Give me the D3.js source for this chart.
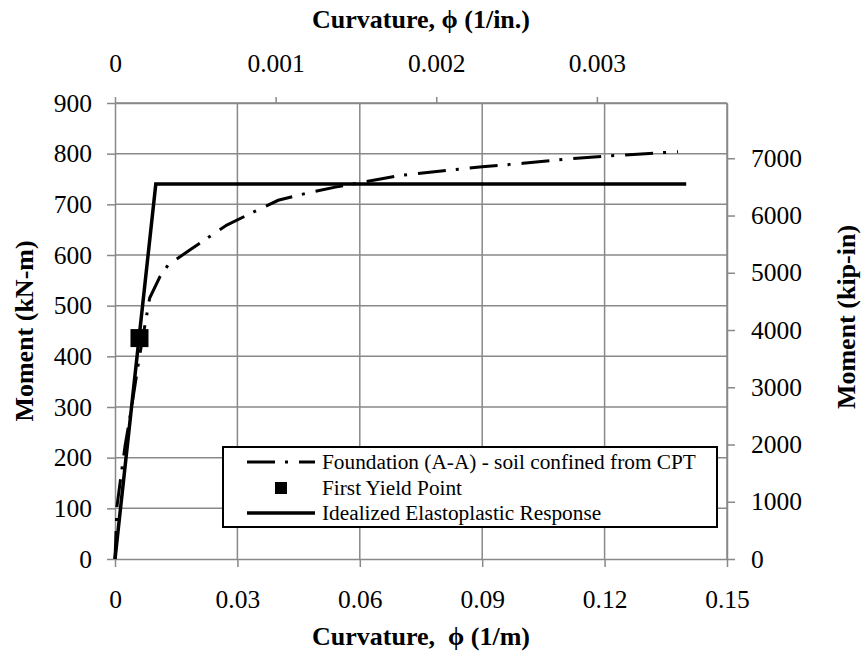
<!DOCTYPE html>
<html>
<head>
<meta charset="utf-8">
<script src="https://cdn.jsdelivr.net/npm/d3@7"></script>
<style>
  body { margin: 0; background: #fff; }
  svg text { font-family: "Liberation Serif", "Times New Roman", serif; fill: #000; }
  .axis text { font-size: 25.5px; font-family: "Liberation Serif", "Times New Roman", serif; }
  .title { font-size: 26px; font-weight: bold; }
  .legend text { font-size: 21.3px; }
</style>
</head>
<body>
<script>
// curvature (1/m) and moment (kN-m)
var curveX = [0, 0.0005, 0.0015, 0.0025, 0.0037, 0.006, 0.0085, 0.011, 0.013, 0.0185, 0.0274, 0.034, 0.04, 0.047, 0.054, 0.061, 0.07, 0.08, 0.09, 0.1, 0.11, 0.12, 0.13, 0.138];
var curveY = [0, 105, 166, 225, 281, 400, 515, 557, 580, 611, 659, 685, 708, 722, 734, 744, 757, 766, 774, 781, 789, 795, 800, 804];
var elastoX = [0, 0.01, 0.14];
var elastoY = [0, 740, 740];
var yieldX = [0.006];
var yieldY = [436];
var xTicks = [0, 0.03, 0.06, 0.09, 0.12, 0.15];
var yTicks = [0, 100, 200, 300, 400, 500, 600, 700, 800, 900];
var xTopTicks = [0, 0.001, 0.002, 0.003];
var yRightTicks = [0, 1000, 2000, 3000, 4000, 5000, 6000, 7000];
var legendLabels = ["Foundation (A-A) - soil confined from CPT", "First Yield Point", "Idealized Elastoplastic Response"];

var width = 864, height = 656;
var margin = {top: 103, right: 137, bottom: 97, left: 115};
var inToM = 39.37, knmToKipin = 8.8507;
var gridColor = "#898989";

var svg = d3.select("body").append("svg")
  .attr("width", width)
  .attr("height", height);

var x = d3.scaleLinear().domain([0, 0.15]).range([margin.left, width - margin.right]);
var y = d3.scaleLinear().domain([0, 900]).range([height - margin.bottom, margin.top]);
var xTop = d3.scaleLinear().domain([0, 0.15 / inToM]).range(x.range());
var yRight = d3.scaleLinear().domain([0, 900 * knmToKipin]).range(y.range());

// grid
svg.append("g").selectAll("line")
  .data(yTicks.slice(1))
  .enter().append("line")
  .attr("x1", x(0)).attr("x2", x(0.15))
  .attr("y1", function(d){ return y(d); }).attr("y2", function(d){ return y(d); })
  .attr("stroke", gridColor).attr("stroke-width", 1.5);
svg.append("g").selectAll("line")
  .data(xTicks.slice(1))
  .enter().append("line")
  .attr("x1", function(d){ return x(d); }).attr("x2", function(d){ return x(d); })
  .attr("y1", y(0)).attr("y2", y(900))
  .attr("stroke", gridColor).attr("stroke-width", 1.5);

// axes
function styleAxis(g) {
  g.attr("font-family", null).attr("font-size", null);
  g.selectAll(".domain").attr("stroke", gridColor).attr("stroke-width", 1.5);
  g.selectAll(".tick line").attr("stroke", gridColor).attr("stroke-width", 1.5);
}
svg.append("g").attr("class", "axis")
  .attr("transform", "translate(" + margin.left + ",0)")
  .call(d3.axisLeft(y).tickValues(yTicks).tickSize(8).tickPadding(15).tickSizeOuter(0))
  .call(styleAxis);
svg.append("g").attr("class", "axis")
  .attr("transform", "translate(0," + (height - margin.bottom) + ")")
  .call(d3.axisBottom(x).tickValues(xTicks).tickFormat(d3.format("~g")).tickSize(8).tickPadding(23).tickSizeOuter(0))
  .call(styleAxis);
svg.append("g").attr("class", "axis")
  .attr("transform", "translate(0," + margin.top + ")")
  .call(d3.axisTop(xTop).tickValues(xTopTicks).tickFormat(d3.format("~g")).tickSize(6).tickPadding(25).tickSizeOuter(0))
  .call(styleAxis);
svg.append("g").attr("class", "axis")
  .attr("transform", "translate(" + (width - margin.right) + ",0)")
  .call(d3.axisRight(yRight).tickValues(yRightTicks).tickFormat(d3.format("d")).tickSize(8).tickPadding(16).tickSizeOuter(0))
  .call(styleAxis);

// series
var curveData = curveX.map(function(d, i){ return [d, curveY[i]]; });
var elastoData = elastoX.map(function(d, i){ return [d, elastoY[i]]; });
var line = d3.line().x(function(d){ return x(d[0]); }).y(function(d){ return y(d[1]); });

svg.append("path").datum(curveData)
  .attr("d", line)
  .attr("fill", "none").attr("stroke", "#000").attr("stroke-width", 3)
  .attr("stroke-dasharray", "28,10,3,11");
svg.append("path").datum(elastoData)
  .attr("d", line)
  .attr("fill", "none").attr("stroke", "#000").attr("stroke-width", 3.5)
  .attr("stroke-linejoin", "miter");
svg.selectAll(".yield")
  .data(yieldX)
  .enter().append("rect")
  .attr("class", "yield")
  .attr("x", function(d){ return x(d) - 9; })
  .attr("y", function(d, i){ return y(yieldY[i]) - 9; })
  .attr("width", 18).attr("height", 18)
  .attr("fill", "#000");

// titles
svg.append("text").attr("class", "title")
  .attr("x", 421).attr("y", 28).attr("text-anchor", "middle")
  .text("Curvature, \u03d5 (1/in.)");
svg.append("text").attr("class", "title")
  .attr("x", 421).attr("y", 645).attr("text-anchor", "middle")
  .attr("xml:space", "preserve")
  .text("Curvature,  \u03d5 (1/m)");
svg.append("text").attr("class", "title")
  .attr("transform", "translate(33,331) rotate(-90)").attr("text-anchor", "middle")
  .text("Moment (kN-m)");
svg.append("text").attr("class", "title")
  .attr("transform", "translate(855,317) rotate(-90)").attr("text-anchor", "middle")
  .text("Moment (kip-in)");

// legend
var lg = svg.append("g").attr("class", "legend").attr("transform", "translate(223,447)");
lg.append("rect").attr("width", 494).attr("height", 80)
  .attr("fill", "#fff").attr("stroke", "#000").attr("stroke-width", 2);
var rowY = [15, 41, 66];
lg.append("line").attr("x1", 24).attr("x2", 92).attr("y1", rowY[0]).attr("y2", rowY[0])
  .attr("stroke", "#000").attr("stroke-width", 3).attr("stroke-dasharray", "28,10,3,11");
lg.append("rect").attr("x", 52).attr("y", rowY[1] - 6).attr("width", 12).attr("height", 12).attr("fill", "#000");
lg.append("line").attr("x1", 24).attr("x2", 92).attr("y1", rowY[2]).attr("y2", rowY[2])
  .attr("stroke", "#000").attr("stroke-width", 3.5);
lg.selectAll("text.lab")
  .data(legendLabels)
  .enter().append("text")
  .attr("class", "lab")
  .attr("x", 99)
  .attr("y", function(d, i){ return rowY[i]; })
  .attr("dy", "0.35em")
  .text(function(d){ return d; });
</script>
</body>
</html>
